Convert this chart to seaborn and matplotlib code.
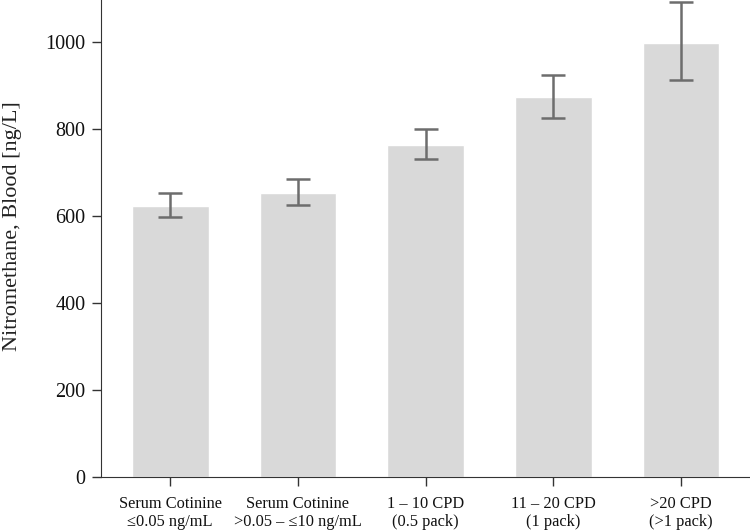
import numpy as np
import pandas as pd
import seaborn as sns
import matplotlib.pyplot as plt

# datos
categorias = ['Serum Cotinine\n≤0.05 ng/mL', 'Serum Cotinine\n>0.05 – ≤10 ng/mL',
              '1 – 10 CPD\n(0.5 pack)', '11 – 20 CPD\n(1 pack)', '>20 CPD\n(>1 pack)']
medias = [623, 653, 763, 873, 998]
inferior = [598, 625, 731, 825, 911]
superior = [653, 685, 800, 924, 1091]

df = pd.DataFrame({'grupo': categorias, 'valor': medias})

sns.set_style('ticks')
plt.rcParams['font.family'] = ['Liberation Serif', 'DejaVu Serif']

fig = plt.figure(figsize=(7.5, 5.31), dpi=100)
ax = fig.add_axes([0.135, 0.102, 0.865, 0.898])
sns.barplot(x='grupo', y='valor', data=df, color='#d9d9d9', saturation=1,
            width=0.60, errorbar=None, ax=ax)

yerr = [np.array(medias) - np.array(inferior), np.array(superior) - np.array(medias)]
ax.errorbar(np.arange(len(categorias)), medias, yerr=yerr, fmt='none',
            ecolor='#6d6d6d', elinewidth=1.8, capsize=8.3, capthick=1.8)

ax.set_ylim(0, 1096)
ax.set_xlim(-0.54, 4.54)
ax.set_yticks([0, 200, 400, 600, 800, 1000])
ax.set_xlabel('')
ax.set_ylabel('Nitromethane, Blood [ng/L]', fontsize=16, color='#222222')
ax.yaxis.set_label_coords(-0.122, 0.525)
ax.tick_params(axis='both', colors='#333333', length=6.5, width=1)
ax.tick_params(axis='y', labelsize=14.5, pad=5)
ax.tick_params(axis='x', labelsize=11.8, pad=7)
for lbl in ax.get_xticklabels() + ax.get_yticklabels():
    lbl.set_color('#111111')
sns.despine(ax=ax)
for s in ['left', 'bottom']:
    ax.spines[s].set_color('#333333')

plt.savefig('out.png', dpi=100)
